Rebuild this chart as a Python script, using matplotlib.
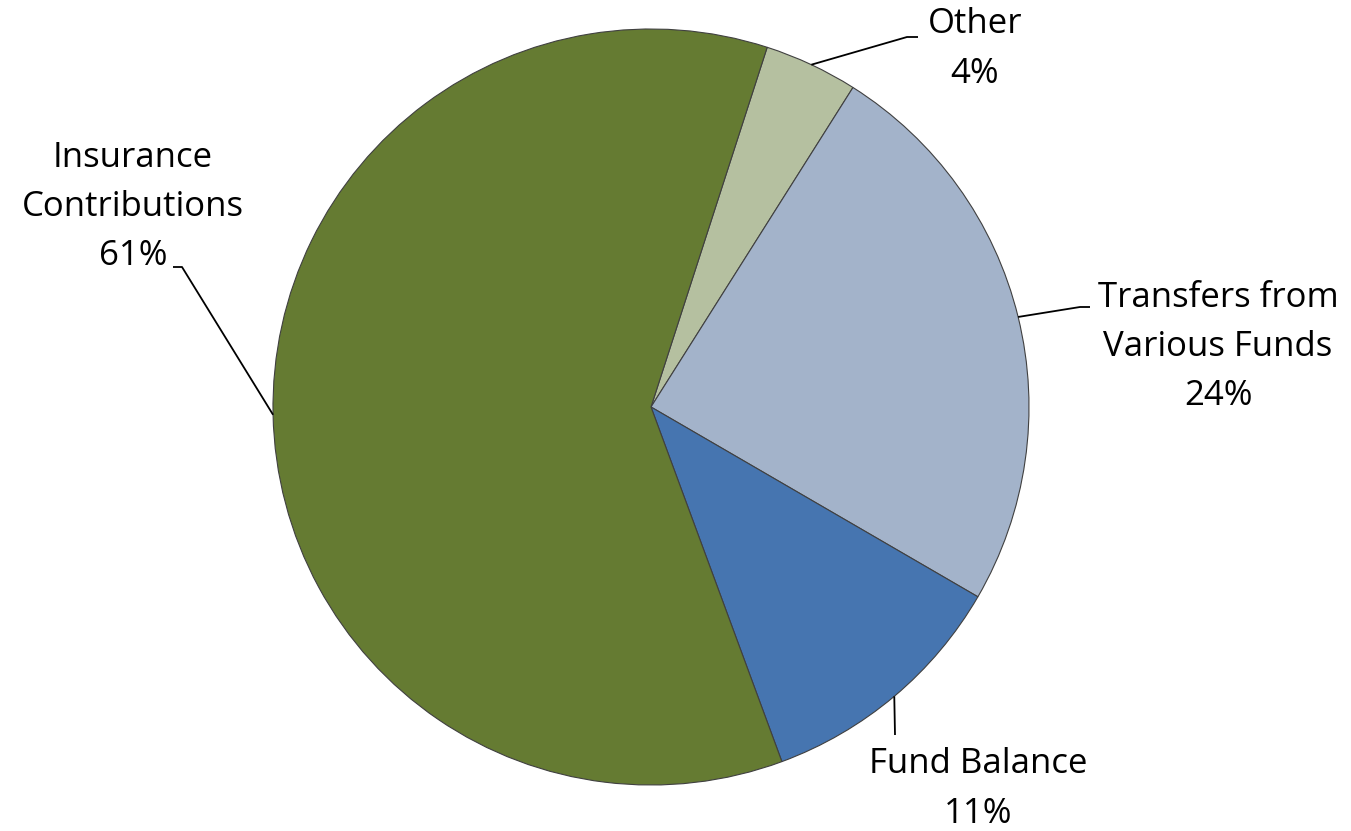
import numpy as np
import matplotlib
matplotlib.use("Agg")
import matplotlib.pyplot as plt

categories = ["Other", "Transfers from\nVarious Funds", "Fund Balance", "Insurance\nContributions"]
values = [4.0, 24.4, 11.0, 60.6]
colors = ["#B5C0A0", "#A3B3CA", "#4675B0", "#657B32"]

W, H = 1351, 831
fig = plt.figure(figsize=(W / 100, H / 100), dpi=100)
ax = fig.add_axes([0, 0, 1, 1])

cx, cy, R = 651, H - 407, 378
wedges, _ = ax.pie(values, colors=colors, startangle=72.1, counterclock=False,
                   center=(cx, cy), radius=R, frame=True,
                   wedgeprops=dict(edgecolor="#404040", linewidth=0.8))
ax.set_xlim(0, W)
ax.set_ylim(0, H)
ax.set_aspect("equal")
ax.axis("off")

font = ["Open Sans", "DejaVu Sans"]
fs = 25
# label layout: (elbow point, end point, text position) in pixel coords (y from top)
layout = [
    ((907, 37), (918, 37), (975, 49)),
    ((1080, 307), (1090, 307), (1218, 347)),
    ((895, 735), (895, 735), (978, 789)),
    ((182, 267), (173, 267), (133, 207)),
]
total = sum(values)
for w, cat, v, (elb, end, tp) in zip(wedges, categories, values, layout):
    mid = np.deg2rad((w.theta1 + w.theta2) / 2)
    ax_ = cx + R * np.cos(mid)
    ay_ = cy + R * np.sin(mid)
    xs = [ax_, elb[0], end[0]]
    ys = [ay_, H - elb[1], H - end[1]]
    ax.plot(xs, ys, color="black", lw=1.3, solid_capstyle="butt")
    pct = round(100 * v / total)
    ax.text(tp[0], H - tp[1], f"{cat}\n{pct}%", ha="center", va="center",
            fontsize=fs, family=font, linespacing=1.58, color="black")

fig.savefig("out.png", dpi=100)
